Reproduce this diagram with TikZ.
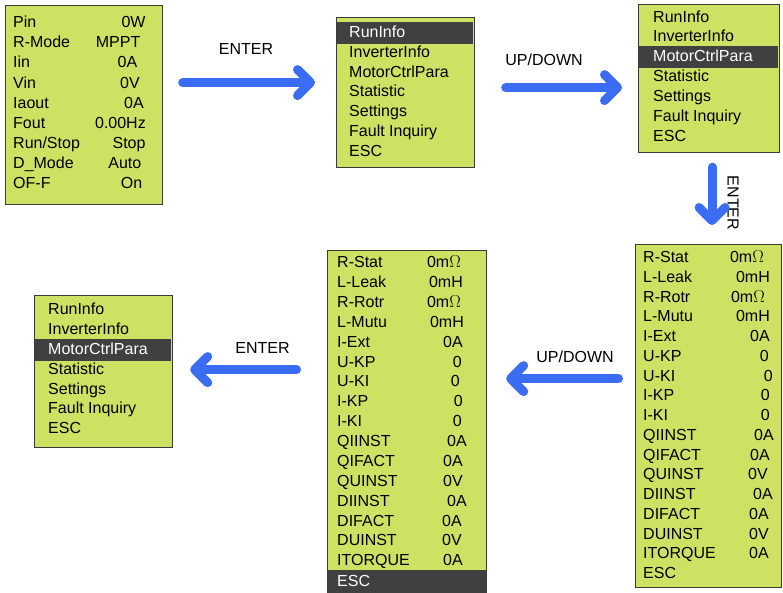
\documentclass[tikz,border=0pt]{standalone}
\usepackage{fontspec}
\setmainfont{Liberation Sans}
\usetikzlibrary{arrows.meta}
\definecolor{LcdGreen}{HTML}{CEE162}
\definecolor{LcdFrame}{HTML}{3A3A3A}
\definecolor{SelGray}{HTML}{404040}
\definecolor{KeyBlue}{HTML}{3B6CF4}

\begin{document}
\begin{tikzpicture}[
  x=1pt, y=-1pt,
  lcd/.style={
    draw=LcdFrame,
    line width=1.2pt,
    fill=LcdGreen,
    anchor=north west,
    inner sep=0pt
  },
  selbar/.style={
    fill=SelGray,
    anchor=north west,
    inner sep=0pt
  },
  lcdtext/.style={
    font=\fontsize{16pt}{19pt}\selectfont,
    inner sep=0pt,
    text=black
  },
  seltext/.style={
    lcdtext,
    text=white
  },
  keytext/.style={
    font=\fontsize{16pt}{19pt}\selectfont,
    inner sep=0pt
  },
  flow/.style={
    -{Straight Barb[length=13pt, width=26pt, round]},
    line width=9pt,
    line cap=round,
    draw=KeyBlue
  }
]
\useasboundingbox (0,0) rectangle (783,592);

% Home screen
\node[lcd, minimum width=157pt, minimum height=199pt] (home) at (5,5) {};
\foreach \lbl/\val/\vx [count=\i] in {Pin/0W/145.7, R-Mode/MPPT/140.5,
    Iin/0A/137.5, Vin/0V/140, Iaout/0A/144, Fout/0.00Hz/146,
    {Run/Stop}/Stop/145.7, D\_Mode/Auto/141.5, OF-F/On/142.5} {
  \node[lcdtext, anchor=base west] (home-l\i) at (13, {22+(\i-1)*20.1+5.7}) {\lbl};
  \node[lcdtext, anchor=base east] (home-v\i) at (\vx, {22+(\i-1)*20.1+5.7}) {\val};
}

% Main menu, RunInfo selected
\node[lcd, minimum width=138pt, minimum height=150pt] (runmenu) at (336,17) {};
\node[selbar, minimum width=136pt, minimum height=22pt] (runsel) at (337,22) {};
\foreach \lbl/\sty [count=\i] in {RunInfo/seltext, InverterInfo/lcdtext,
    MotorCtrlPara/lcdtext, Statistic/lcdtext, Settings/lcdtext,
    Fault Inquiry/lcdtext, ESC/lcdtext} {
  \node[\sty, anchor=base west] (runmenu-l\i) at (349, {31.5+(\i-1)*19.9+5.7}) {\lbl};
}

% Main menu, MotorCtrlPara selected
\node[lcd, minimum width=141pt, minimum height=148pt] (ctrlmenu) at (638,4) {};
\node[selbar, minimum width=139pt, minimum height=22pt] (ctrlsel) at (639,46) {};
\foreach \lbl/\sty [count=\i] in {RunInfo/lcdtext, InverterInfo/lcdtext,
    MotorCtrlPara/seltext, Statistic/lcdtext, Settings/lcdtext,
    Fault Inquiry/lcdtext, ESC/lcdtext} {
  \node[\sty, anchor=base west] (ctrlmenu-l\i) at (653, {16.3+(\i-1)*19.97+5.7}) {\lbl};
}

% Motor parameters, first entry
\node[lcd, minimum width=146pt, minimum height=343pt] (paramA) at (635,244) {};
\foreach \lbl/\val/\vx [count=\i] in {R-Stat/0m$\Omega$/764, L-Leak/0mH/770,
    R-Rotr/0m$\Omega$/765, L-Mutu/0mH/770, I-Ext/0A/770, U-KP/0/769,
    U-KI/0/773, I-KP/0/770, I-KI/0/770, QIINST/0A/774, QIFACT/0A/770,
    QUINST/0V/768, DIINST/0A/773, DIFACT/0A/769, DUINST/0V/769,
    ITORQUE/0A/769, ESC//769} {
  \node[lcdtext, anchor=base west] (paramA-l\i) at (643, {257+(\i-1)*19.75+5.7}) {\lbl};
  \node[lcdtext, anchor=base east] (paramA-v\i) at (\vx, {257+(\i-1)*19.75+5.7}) {\val};
}

% Motor parameters, ESC selected
\node[lcd, minimum width=159pt, minimum height=343pt] (paramB) at (327,250) {};
\node[selbar, minimum width=158pt, minimum height=23pt] (paramsel) at (327.5,570) {};
\foreach \lbl/\val/\vx [count=\i] in {R-Stat/0m$\Omega$/461, L-Leak/0mH/463,
    R-Rotr/0m$\Omega$/461, L-Mutu/0mH/464, I-Ext/0A/463, U-KP/0/462,
    U-KI/0/460, I-KP/0/463, I-KI/0/462, QIINST/0A/467, QIFACT/0A/463,
    QUINST/0V/463, DIINST/0A/467, DIFACT/0A/462, DUINST/0V/462,
    ITORQUE/0A/463} {
  \node[lcdtext, anchor=base west] (paramB-l\i) at (337, {262+(\i-1)*19.87+5.7}) {\lbl};
  \node[lcdtext, anchor=base east] (paramB-v\i) at (\vx, {262+(\i-1)*19.87+5.7}) {\val};
}
\node[seltext, anchor=base west] (paramB-esc) at (337, 586.7) {ESC};

% Back in main menu
\node[lcd, minimum width=138pt, minimum height=152pt] (ctrlback) at (34,295) {};
\node[selbar, minimum width=136pt, minimum height=22pt] (backsel) at (35,339) {};
\foreach \lbl/\sty [count=\i] in {RunInfo/lcdtext, InverterInfo/lcdtext,
    MotorCtrlPara/seltext, Statistic/lcdtext, Settings/lcdtext,
    Fault Inquiry/lcdtext, ESC/lcdtext} {
  \node[\sty, anchor=base west] (ctrlback-l\i) at (48, {309+(\i-1)*19.83+5.7}) {\lbl};
}

% Key labels
\node[keytext] (keyA) at (246,49) {ENTER};
\node[keytext] (keyB) at (544,60) {UP/DOWN};
\node[keytext, rotate=-90] (keyC) at (733,203) {ENTER};
\node[keytext] (keyD) at (575,357) {UP/DOWN};
\node[keytext] (keyE) at (262.5,348) {ENTER};

% Arrows
\draw[flow, shorten <=19.5pt, shorten >=21pt]
  ([yshift=22.5pt]home.east) -- ([yshift=10pt]runmenu.west);
\draw[flow, shorten <=30.5pt, shorten >=16pt]
  ([yshift=5pt]runmenu.east) -- ([yshift=-9pt]ctrlmenu.west);
\draw[flow, shorten <=14pt, shorten >=19pt]
  ([xshift=3pt]ctrlmenu.south) -- ([xshift=3.5pt]paramA.north);
\draw[flow, shorten <=16.5pt, shorten >=19pt]
  ([yshift=37.5pt]paramA.west) -- ([yshift=43.5pt]paramB.east);
\draw[flow, shorten <=30.5pt, shorten >=17pt]
  ([yshift=52.5pt]paramB.west) -- ([yshift=2pt]ctrlback.east);

\end{tikzpicture}
\end{document}
